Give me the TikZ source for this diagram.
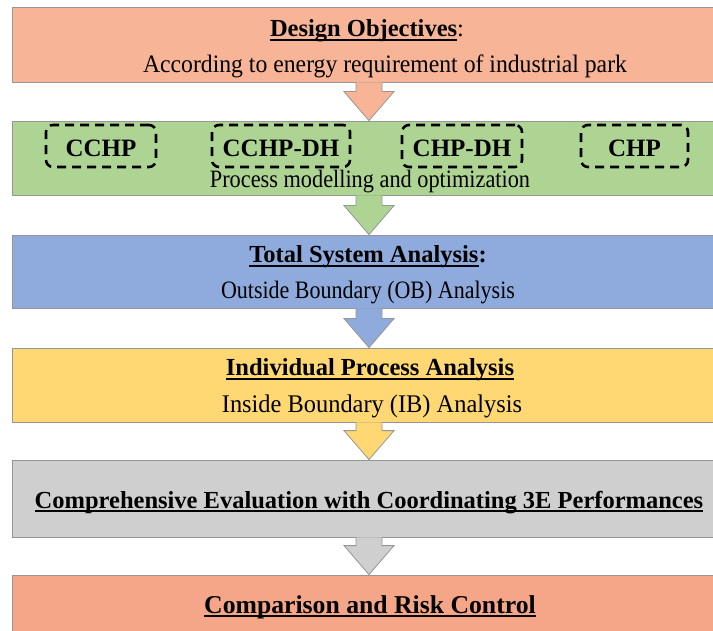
\documentclass[tikz,border=0pt]{standalone}
\usepackage{fontspec}
\setmainfont{Liberation Serif}
\usetikzlibrary{calc}
\definecolor{cA}{RGB}{247,180,150}
\definecolor{cG}{RGB}{174,212,148}
\definecolor{cB}{RGB}{143,170,220}
\definecolor{cY}{RGB}{255,216,115}
\definecolor{cK}{RGB}{208,207,207}
\definecolor{cR}{RGB}{246,166,136}
\definecolor{edgegray}{RGB}{150,150,150}
\newsavebox\myulbox
\newcommand\myul[1]{\sbox\myulbox{#1}\rlap{\rule[-0.15em]{\wd\myulbox}{0.075em}}\usebox\myulbox}
\newcommand\vst[2]{\scalebox{1}[#1]{#2}}
\newcommand\blockarrow[3]{%
  \path (#1.south) coordinate (#1s) (#2.north) coordinate (#2n);
  \draw[arrowline, fill=#3] ($(#1s)+(-13,0)$) -- ($(#2n)+(-13,-29)$) -- ($(#2n)+(-25,-29)$)
     -- (#2n) -- ($(#2n)+(25,-29)$) -- ($(#2n)+(13,-29)$) -- ($(#1s)+(13,0)$);}
\begin{document}
\begin{tikzpicture}[x=1pt,y=-1pt,
  boxstyle/.style={draw=edgegray, line width=0.8pt, rectangle, minimum width=714pt, inner sep=0pt},
  arrowline/.style={draw=edgegray, line width=0.8pt, line join=miter},
  ttl/.style={font=\fontsize{24.5}{28}\selectfont\bfseries, inner sep=0pt, anchor=base},
  sub/.style={inner sep=0pt, anchor=base},
  tech/.style={draw=black, line width=2.6pt, dash pattern=on 9pt off 6pt, rounded corners=7pt,
     minimum height=42pt, inner sep=0pt, text height=22pt, text depth=0pt,
     font=\fontsize{25}{28}\selectfont\bfseries}]
\useasboundingbox (0,0) rectangle (713,631);
\clip (0,0) rectangle (713,631);
% boxes
\node[boxstyle, fill=cA, minimum height=75pt] (b1) at (369,44.5) {};
\node[boxstyle, fill=cG, minimum height=74pt] (b2) at (369,158) {};
\node[boxstyle, fill=cB, minimum height=73pt] (b3) at (369,271.5) {};
\node[boxstyle, fill=cY, minimum height=74pt] (b4) at (369,385) {};
\node[boxstyle, fill=cK, minimum height=77pt] (b5) at (369,498.5) {};
\node[boxstyle, fill=cR, minimum height=80pt] (b6) at (369,615) {};
% arrows
\blockarrow{b1}{b2}{cA}
\blockarrow{b2}{b3}{cG}
\blockarrow{b3}{b4}{cB}
\blockarrow{b4}{b5}{cY}
\blockarrow{b5}{b6}{cK}
% texts
\node[ttl] (t1) at (367,37) {\myul{Design Objectives}\textmd{:}};
\node[sub, font=\fontsize{23.7}{28}\selectfont] (s1) at (385,73) {\vst{1.06}{According to energy requirement of industrial park}};
\node[tech, minimum width=110pt] (k1) at (101,146) {CCHP};
\node[tech, minimum width=138pt] (k2) at (281,146) {CCHP-DH};
\node[tech, minimum width=120pt] (k3) at (462,146) {CHP-DH};
\node[tech, minimum width=107pt] (k4) at (634.5,146) {CHP};
\node[sub, font=\fontsize{22.3}{26}\selectfont] (s2) at (370,188) {\vst{1.12}{Process modelling and optimization}};
\node[ttl] (t3) at (368,263) {\myul{Total System Analysis}:};
\node[sub, font=\fontsize{22}{26}\selectfont] (s3) at (368,299) {\vst{1.14}{Outside Boundary (OB) Analysis}};
\node[ttl] (t4) at (370,376) {\myul{Individual Process Analysis}};
\node[sub, font=\fontsize{24.4}{28}\selectfont] (s4) at (372,412) {\vst{1.04}{Inside Boundary (IB) Analysis}};
\node[ttl] (t5) at (369,508) {\myul{Comprehensive Evaluation with Coordinating 3E Performances}};
\node[ttl, font=\fontsize{25.7}{29}\selectfont\bfseries] (t6) at (370,613) {\myul{Comparison and Risk Control}};
\end{tikzpicture}
\end{document}
